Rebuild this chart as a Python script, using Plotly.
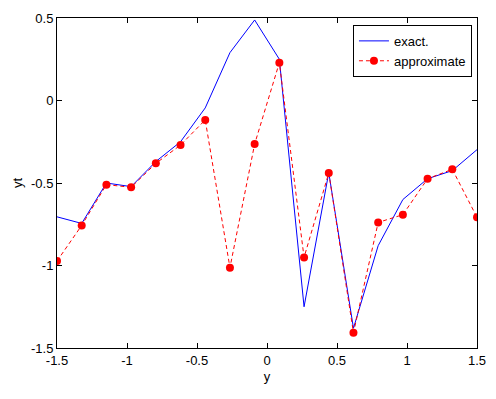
import plotly.graph_objects as go

y_grid = [-1.5, -1.3235, -1.1471, -0.9706, -0.7941, -0.6176, -0.4412, -0.2647, -0.0882,
          0.0882, 0.2647, 0.4412, 0.6176, 0.7941, 0.9706, 1.1471, 1.3235, 1.5]
exact = [-0.705, -0.745, -0.500, -0.522, -0.370, -0.250, -0.045, 0.290, 0.488,
         0.250, -1.250, -0.437, -1.380, -0.880, -0.600, -0.474, -0.425, -0.298]
approx = [-0.973, -0.757, -0.510, -0.526, -0.381, -0.270, -0.118, -1.013, -0.264,
          0.229, -0.951, -0.439, -1.407, -0.739, -0.692, -0.474, -0.417, -0.708]
x_ticks = [-1.5, -1, -0.5, 0, 0.5, 1, 1.5]
y_ticks = [-1.5, -1, -0.5, 0, 0.5]

fig = go.Figure()
fig.add_trace(go.Scatter(x=y_grid, y=exact, mode="lines", name="exact.",
                         line=dict(color="#0000ff", width=1)))
fig.add_trace(go.Scatter(x=y_grid, y=approx, mode="lines+markers", name="approximate",
                         line=dict(color="#ff0000", width=1, dash="4px,3px"),
                         marker=dict(color="#ff0000", size=8, symbol="circle")))

axis_common = dict(showline=True, linecolor="black", linewidth=1, mirror="ticks",
                   ticks="inside", ticklen=5, tickcolor="black", showgrid=False,
                   zeroline=False, automargin=False,
                   tickfont=dict(size=13, color="black"))
fig.update_xaxes(range=[-1.5, 1.5], tickvals=x_ticks, ticktext=[str(v) for v in x_ticks],
                 title=dict(text="y", font=dict(size=13, color="black"), standoff=5),
                 **axis_common)
fig.update_yaxes(range=[-1.5, 0.5], tickvals=y_ticks, ticktext=[str(v) for v in y_ticks],
                 title=dict(text="yt", font=dict(size=13, color="black"), standoff=5),
                 **axis_common)

# page body has an 8px margin, so the figure is offset by 8px in x and y
fig.update_layout(
    width=488, height=391,
    margin=dict(l=49, r=19, t=10, b=51),
    paper_bgcolor="white", plot_bgcolor="white",
    font=dict(family="Arial, Liberation Sans, sans-serif", size=13, color="black"),
    legend=dict(x=0.988, y=0.979, xanchor="right", yanchor="top",
                bordercolor="black", borderwidth=1, bgcolor="white",
                font=dict(size=13), tracegroupgap=0, itemwidth=30),
    showlegend=True,
)
fig.write_html("out.html")
